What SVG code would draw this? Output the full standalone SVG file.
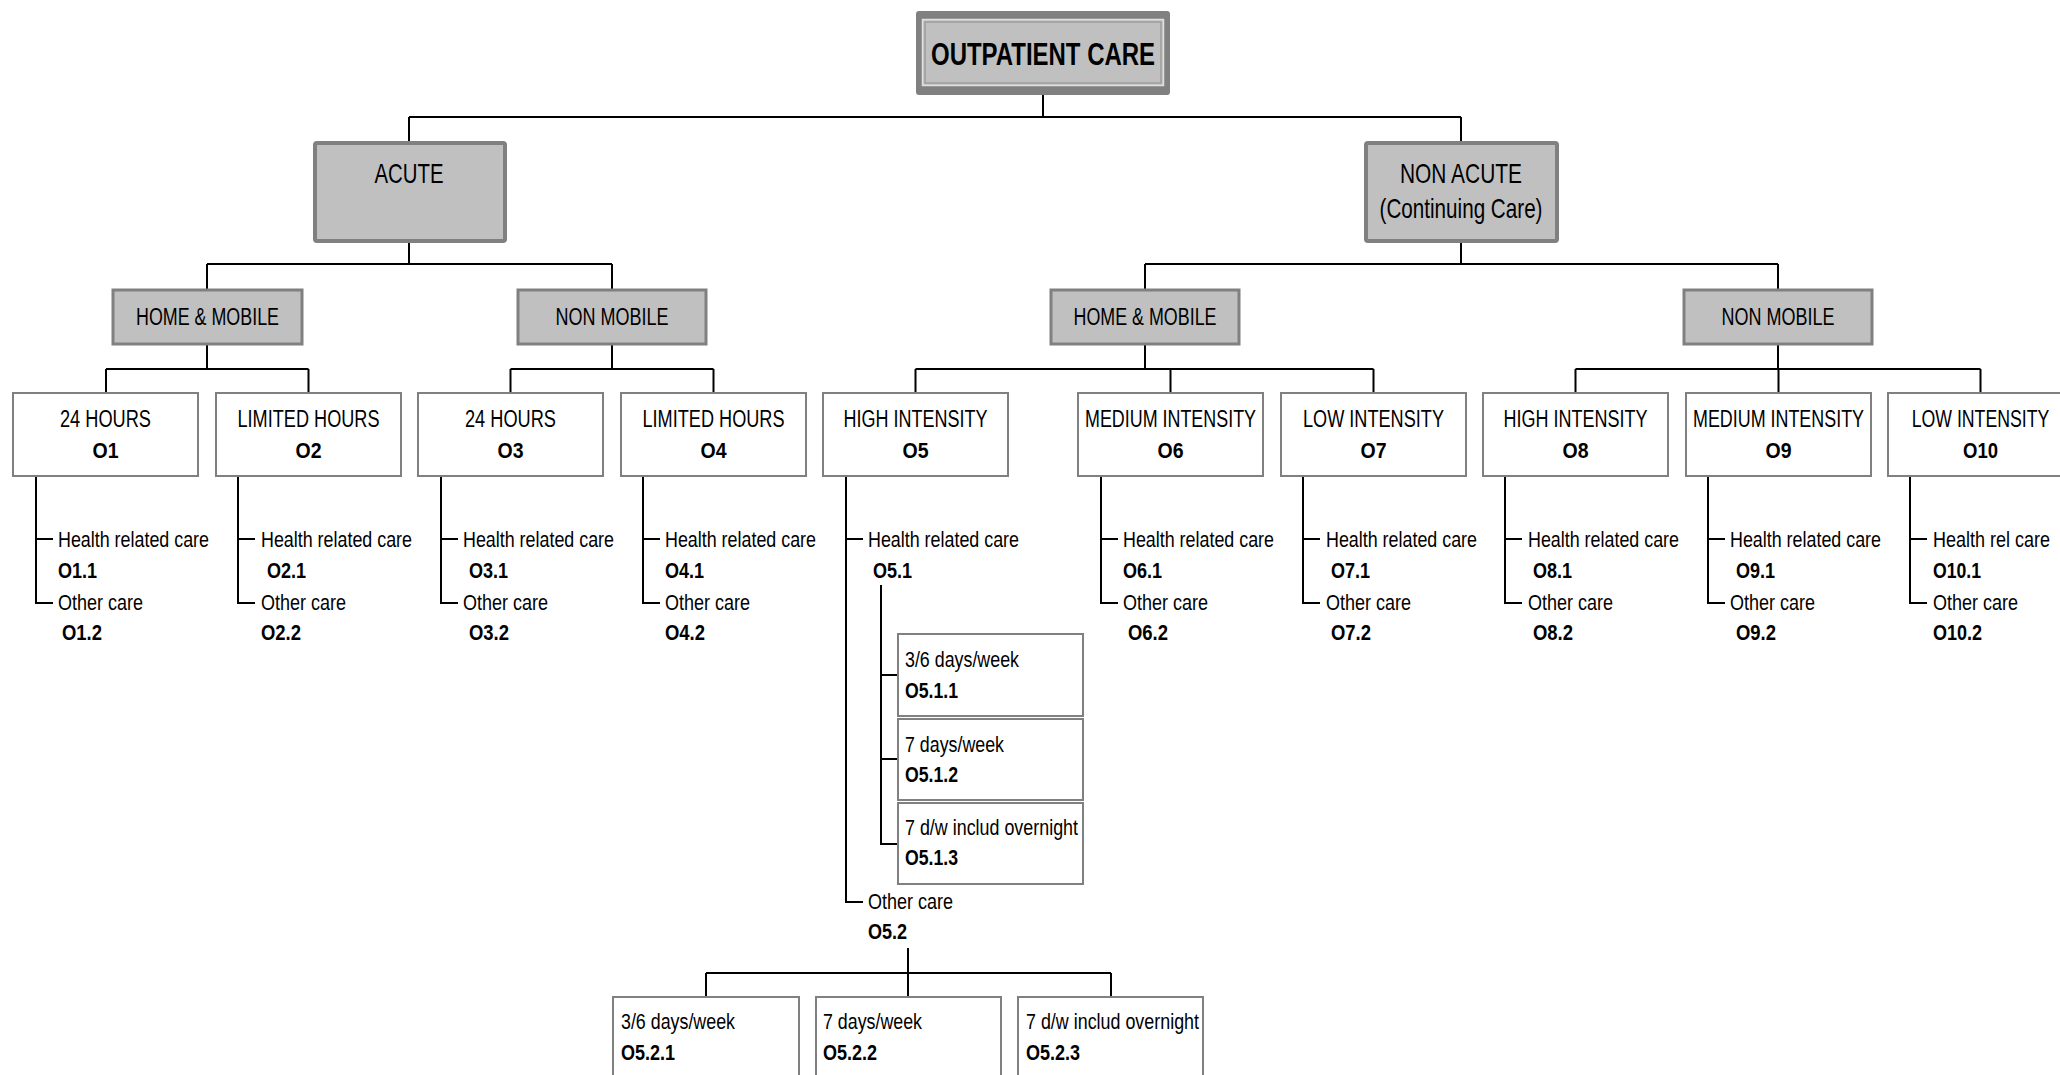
<svg xmlns="http://www.w3.org/2000/svg" width="2060" height="1075" viewBox="0 0 2060 1075">
<style>
text{font-family:"Liberation Sans",Arial,sans-serif;fill:#000}
.t32{font-size:32px;font-weight:bold;text-anchor:middle}
.t28{font-size:28px;text-anchor:middle}
.t23{font-size:23px;text-anchor:middle}
.tb{font-size:22px;font-weight:bold;text-anchor:middle}
.s{font-size:22px}
.sb{font-size:21.5px;font-weight:bold}
.leaf{fill:#fff;stroke:#808080;stroke-width:2}
.lvl1{fill:#c0c0c0;stroke:#808080;stroke-width:3}
.lvl0{fill:#c0c0c0;stroke:#808080;stroke-width:4}
.con{fill:none;stroke:#000;stroke-width:2}
</style>
<rect width="2060" height="1075" fill="#fff"/>
<g id="connectors" class="con">
<path d="M1043,95V117M409,117H1461M409,117V143M1461,117V143"/>
<path d="M409,241V264M207,264H612M207,264V290M612,264V290"/>
<path d="M1461,241V264M1145,264H1778M1145,264V290M1778,264V290"/>
<path d="M207,344V369M106,369H308.5M106,369V393M308.5,369V393"/>
<path d="M612,344V369M510.5,369H713.5M510.5,369V393M713.5,369V393"/>
<path d="M1145,344V369M915.5,369H1373.5M915.5,369V393M1170.5,369V393M1373.5,369V393"/>
<path d="M1778,344V369M1575.5,369H1980.5M1575.5,369V393M1778.5,369V393M1980.5,369V393"/>
<path d="M36,476V603H53M36,539H53"/>
<path d="M238,476V603H255M238,539H255"/>
<path d="M441,476V603H458M441,539H458"/>
<path d="M643,476V603H660M643,539H660"/>
<path d="M846,476V902H863M846,539H863"/>
<path d="M1101,476V603H1118M1101,539H1118"/>
<path d="M1303,476V603H1320M1303,539H1320"/>
<path d="M1505,476V603H1522M1505,539H1522"/>
<path d="M1708,476V603H1725M1708,539H1725"/>
<path d="M1910,476V603H1927M1910,539H1927"/>
<path d="M881,585V844H898M881,675H898M881,759H898"/>
<path d="M908,948V997M706,973H1111M706,973V997M1111,973V997"/>
</g>
<g id="root">
<rect x="916" y="11" width="254" height="84" rx="3" fill="#808080"/>
<rect x="922.5" y="19.5" width="241" height="66" fill="#c0c0c0" stroke="#e0e0e0" stroke-width="1.5"/>
<rect x="925" y="22" width="236" height="61" fill="#c0c0c0" stroke="#8c8c8c" stroke-width="1"/>
<text class="t32" x="1043" y="65" textLength="224" lengthAdjust="spacingAndGlyphs">OUTPATIENT CARE</text>
</g>
<g id="acute">
<rect class="lvl0" x="315" y="143" width="190" height="98" rx="2"/>
<text class="t28" x="409" y="183" textLength="69" lengthAdjust="spacingAndGlyphs">ACUTE</text>
</g>
<g id="non_acute">
<rect class="lvl0" x="1366" y="143" width="191" height="98" rx="2"/>
<text class="t28" x="1461" y="183" textLength="122" lengthAdjust="spacingAndGlyphs">NON ACUTE</text>
<text class="t28" x="1461" y="218" textLength="163" lengthAdjust="spacingAndGlyphs">(Continuing Care)</text>
</g>
<g id="acute_home_mobile">
<rect class="lvl1" x="113" y="290" width="189" height="54"/>
<text class="t23" x="207.5" y="325" textLength="143" lengthAdjust="spacingAndGlyphs">HOME &amp; MOBILE</text>
</g>
<g id="acute_non_mobile">
<rect class="lvl1" x="518" y="290" width="188" height="54"/>
<text class="t23" x="612" y="325" textLength="113" lengthAdjust="spacingAndGlyphs">NON MOBILE</text>
</g>
<g id="nonacute_home_mobile">
<rect class="lvl1" x="1051" y="290" width="188" height="54"/>
<text class="t23" x="1145" y="325" textLength="143" lengthAdjust="spacingAndGlyphs">HOME &amp; MOBILE</text>
</g>
<g id="nonacute_non_mobile">
<rect class="lvl1" x="1684" y="290" width="188" height="54"/>
<text class="t23" x="1778" y="325" textLength="113" lengthAdjust="spacingAndGlyphs">NON MOBILE</text>
</g>
<g id="O1">
<rect class="leaf" x="13" y="393" width="185" height="83"/>
<text class="t23" x="105.5" y="427" textLength="91" lengthAdjust="spacingAndGlyphs">24 HOURS</text>
<text class="tb" x="105.5" y="458" textLength="26" lengthAdjust="spacingAndGlyphs">O1</text>
</g>
<g id="O2">
<rect class="leaf" x="216" y="393" width="185" height="83"/>
<text class="t23" x="308.5" y="427" textLength="142" lengthAdjust="spacingAndGlyphs">LIMITED HOURS</text>
<text class="tb" x="308.5" y="458" textLength="26" lengthAdjust="spacingAndGlyphs">O2</text>
</g>
<g id="O3">
<rect class="leaf" x="418" y="393" width="185" height="83"/>
<text class="t23" x="510.5" y="427" textLength="91" lengthAdjust="spacingAndGlyphs">24 HOURS</text>
<text class="tb" x="510.5" y="458" textLength="26" lengthAdjust="spacingAndGlyphs">O3</text>
</g>
<g id="O4">
<rect class="leaf" x="621" y="393" width="185" height="83"/>
<text class="t23" x="713.5" y="427" textLength="142" lengthAdjust="spacingAndGlyphs">LIMITED HOURS</text>
<text class="tb" x="713.5" y="458" textLength="26" lengthAdjust="spacingAndGlyphs">O4</text>
</g>
<g id="O5">
<rect class="leaf" x="823" y="393" width="185" height="83"/>
<text class="t23" x="915.5" y="427" textLength="144" lengthAdjust="spacingAndGlyphs">HIGH INTENSITY</text>
<text class="tb" x="915.5" y="458" textLength="26" lengthAdjust="spacingAndGlyphs">O5</text>
</g>
<g id="O6">
<rect class="leaf" x="1078" y="393" width="185" height="83"/>
<text class="t23" x="1170.5" y="427" textLength="171" lengthAdjust="spacingAndGlyphs">MEDIUM INTENSITY</text>
<text class="tb" x="1170.5" y="458" textLength="26" lengthAdjust="spacingAndGlyphs">O6</text>
</g>
<g id="O7">
<rect class="leaf" x="1281" y="393" width="185" height="83"/>
<text class="t23" x="1373.5" y="427" textLength="141" lengthAdjust="spacingAndGlyphs">LOW INTENSITY</text>
<text class="tb" x="1373.5" y="458" textLength="26" lengthAdjust="spacingAndGlyphs">O7</text>
</g>
<g id="O8">
<rect class="leaf" x="1483" y="393" width="185" height="83"/>
<text class="t23" x="1575.5" y="427" textLength="144" lengthAdjust="spacingAndGlyphs">HIGH INTENSITY</text>
<text class="tb" x="1575.5" y="458" textLength="26" lengthAdjust="spacingAndGlyphs">O8</text>
</g>
<g id="O9">
<rect class="leaf" x="1686" y="393" width="185" height="83"/>
<text class="t23" x="1778.5" y="427" textLength="171" lengthAdjust="spacingAndGlyphs">MEDIUM INTENSITY</text>
<text class="tb" x="1778.5" y="458" textLength="26" lengthAdjust="spacingAndGlyphs">O9</text>
</g>
<g id="O10">
<rect class="leaf" x="1888" y="393" width="185" height="83"/>
<text class="t23" transform="translate(1980.5,427) scale(0.77,1)" x="0" y="0">LOW INTENSITY</text>
<text class="tb" x="1980.5" y="458" textLength="35" lengthAdjust="spacingAndGlyphs">O10</text>
</g>
<g id="O1_items">
<text class="s" x="58" y="547" textLength="151" lengthAdjust="spacingAndGlyphs">Health related care</text>
<text class="sb" x="58" y="578" textLength="39" lengthAdjust="spacingAndGlyphs">O1.1</text>
<text class="s" x="58" y="610" textLength="85" lengthAdjust="spacingAndGlyphs">Other care</text>
<text class="sb" x="62" y="640" textLength="40" lengthAdjust="spacingAndGlyphs">O1.2</text>
</g>
<g id="O2_items">
<text class="s" x="261" y="547" textLength="151" lengthAdjust="spacingAndGlyphs">Health related care</text>
<text class="sb" x="267" y="578" textLength="39" lengthAdjust="spacingAndGlyphs">O2.1</text>
<text class="s" x="261" y="610" textLength="85" lengthAdjust="spacingAndGlyphs">Other care</text>
<text class="sb" x="261" y="640" textLength="40" lengthAdjust="spacingAndGlyphs">O2.2</text>
</g>
<g id="O3_items">
<text class="s" x="463" y="547" textLength="151" lengthAdjust="spacingAndGlyphs">Health related care</text>
<text class="sb" x="469" y="578" textLength="39" lengthAdjust="spacingAndGlyphs">O3.1</text>
<text class="s" x="463" y="610" textLength="85" lengthAdjust="spacingAndGlyphs">Other care</text>
<text class="sb" x="469" y="640" textLength="40" lengthAdjust="spacingAndGlyphs">O3.2</text>
</g>
<g id="O4_items">
<text class="s" x="665" y="547" textLength="151" lengthAdjust="spacingAndGlyphs">Health related care</text>
<text class="sb" x="665" y="578" textLength="39" lengthAdjust="spacingAndGlyphs">O4.1</text>
<text class="s" x="665" y="610" textLength="85" lengthAdjust="spacingAndGlyphs">Other care</text>
<text class="sb" x="665" y="640" textLength="40" lengthAdjust="spacingAndGlyphs">O4.2</text>
</g>
<g id="O5_items">
<text class="s" x="868" y="547" textLength="151" lengthAdjust="spacingAndGlyphs">Health related care</text>
<text class="sb" x="873" y="578" textLength="39" lengthAdjust="spacingAndGlyphs">O5.1</text>
<text class="s" x="868" y="909" textLength="85" lengthAdjust="spacingAndGlyphs">Other care</text>
<text class="sb" x="868" y="939" textLength="39" lengthAdjust="spacingAndGlyphs">O5.2</text>
</g>
<g id="O6_items">
<text class="s" x="1123" y="547" textLength="151" lengthAdjust="spacingAndGlyphs">Health related care</text>
<text class="sb" x="1123" y="578" textLength="39" lengthAdjust="spacingAndGlyphs">O6.1</text>
<text class="s" x="1123" y="610" textLength="85" lengthAdjust="spacingAndGlyphs">Other care</text>
<text class="sb" x="1128" y="640" textLength="40" lengthAdjust="spacingAndGlyphs">O6.2</text>
</g>
<g id="O7_items">
<text class="s" x="1326" y="547" textLength="151" lengthAdjust="spacingAndGlyphs">Health related care</text>
<text class="sb" x="1331" y="578" textLength="39" lengthAdjust="spacingAndGlyphs">O7.1</text>
<text class="s" x="1326" y="610" textLength="85" lengthAdjust="spacingAndGlyphs">Other care</text>
<text class="sb" x="1331" y="640" textLength="40" lengthAdjust="spacingAndGlyphs">O7.2</text>
</g>
<g id="O8_items">
<text class="s" x="1528" y="547" textLength="151" lengthAdjust="spacingAndGlyphs">Health related care</text>
<text class="sb" x="1533" y="578" textLength="39" lengthAdjust="spacingAndGlyphs">O8.1</text>
<text class="s" x="1528" y="610" textLength="85" lengthAdjust="spacingAndGlyphs">Other care</text>
<text class="sb" x="1533" y="640" textLength="40" lengthAdjust="spacingAndGlyphs">O8.2</text>
</g>
<g id="O9_items">
<text class="s" x="1730" y="547" textLength="151" lengthAdjust="spacingAndGlyphs">Health related care</text>
<text class="sb" x="1736" y="578" textLength="39" lengthAdjust="spacingAndGlyphs">O9.1</text>
<text class="s" x="1730" y="610" textLength="85" lengthAdjust="spacingAndGlyphs">Other care</text>
<text class="sb" x="1736" y="640" textLength="40" lengthAdjust="spacingAndGlyphs">O9.2</text>
</g>
<g id="O10_items">
<text class="s" transform="translate(1933,547) scale(0.818,1)" x="0" y="0">Health rel care</text>
<text class="sb" x="1933" y="578" textLength="48" lengthAdjust="spacingAndGlyphs">O10.1</text>
<text class="s" x="1933" y="610" textLength="85" lengthAdjust="spacingAndGlyphs">Other care</text>
<text class="sb" x="1933" y="640" textLength="49" lengthAdjust="spacingAndGlyphs">O10.2</text>
</g>
<g id="O5_1_1">
<rect class="leaf" x="898" y="634" width="185" height="82"/>
<text class="s" x="905" y="667" textLength="114" lengthAdjust="spacingAndGlyphs">3/6 days/week</text>
<text class="sb" x="905" y="698" textLength="53" lengthAdjust="spacingAndGlyphs">O5.1.1</text>
</g>
<g id="O5_1_2">
<rect class="leaf" x="898" y="719" width="185" height="81"/>
<text class="s" x="905" y="752" textLength="99" lengthAdjust="spacingAndGlyphs">7 days/week</text>
<text class="sb" x="905" y="782" textLength="53" lengthAdjust="spacingAndGlyphs">O5.1.2</text>
</g>
<g id="O5_1_3">
<rect class="leaf" x="898" y="803" width="185" height="81"/>
<text class="s" x="905" y="835" textLength="173" lengthAdjust="spacingAndGlyphs">7 d/w includ overnight</text>
<text class="sb" x="905" y="865" textLength="53" lengthAdjust="spacingAndGlyphs">O5.1.3</text>
</g>
<g id="O5_2_1">
<rect class="leaf" x="613" y="997" width="186" height="95"/>
<text class="s" x="621" y="1029" textLength="114" lengthAdjust="spacingAndGlyphs">3/6 days/week</text>
<text class="sb" x="621" y="1060" textLength="54" lengthAdjust="spacingAndGlyphs">O5.2.1</text>
</g>
<g id="O5_2_2">
<rect class="leaf" x="816" y="997" width="185" height="95"/>
<text class="s" x="823" y="1029" textLength="99" lengthAdjust="spacingAndGlyphs">7 days/week</text>
<text class="sb" x="823" y="1060" textLength="54" lengthAdjust="spacingAndGlyphs">O5.2.2</text>
</g>
<g id="O5_2_3">
<rect class="leaf" x="1018" y="997" width="185" height="95"/>
<text class="s" x="1026" y="1029" textLength="173" lengthAdjust="spacingAndGlyphs">7 d/w includ overnight</text>
<text class="sb" x="1026" y="1060" textLength="54" lengthAdjust="spacingAndGlyphs">O5.2.3</text>
</g>
</svg>
